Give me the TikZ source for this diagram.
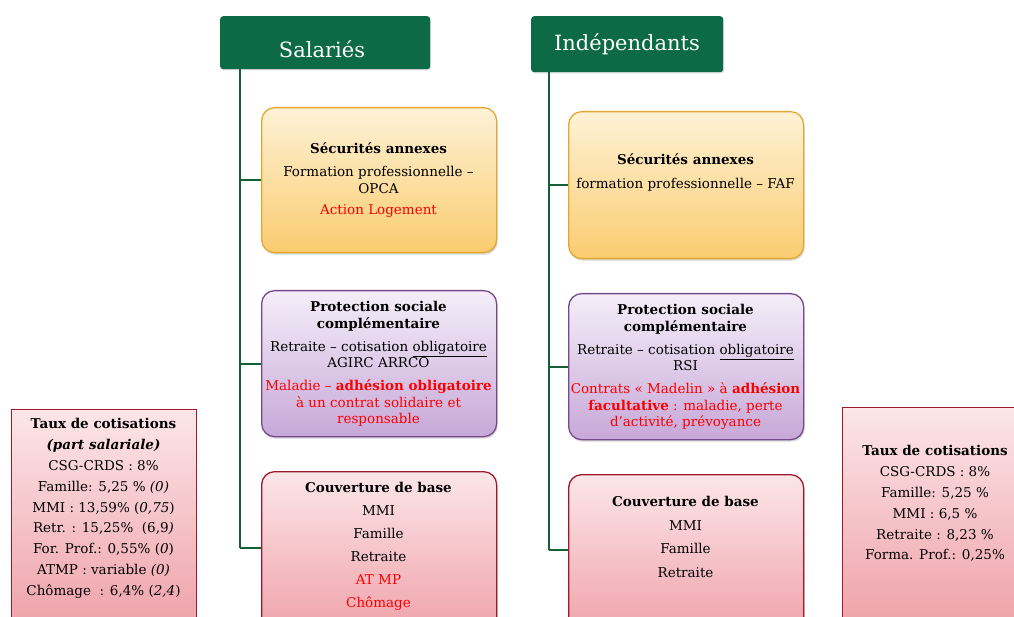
\documentclass[tikz,border=0pt]{standalone}
\usepackage{fontspec}
\setmainfont{DejaVu Serif}
\usetikzlibrary{shadows}
\definecolor{hgreen}{RGB}{12,106,70}
\definecolor{tline}{RGB}{20,96,52}
\definecolor{yelTop}{RGB}{254,242,214}
\definecolor{yelBot}{RGB}{250,204,112}
\definecolor{yelBd}{RGB}{226,168,48}
\definecolor{purTop}{RGB}{245,238,249}
\definecolor{purBot}{RGB}{199,168,216}
\definecolor{purBd}{RGB}{118,72,142}
\definecolor{pinkTop}{RGB}{252,230,232}
\definecolor{pinkBot}{RGB}{238,158,166}
\definecolor{pinkBd}{RGB}{160,24,44}
\definecolor{txtred}{RGB}{250,0,0}
\begin{document}
\begin{tikzpicture}[x=1pt,y=-1pt,
  header/.style={fill=hgreen, rounded corners=3pt, inner sep=0pt, anchor=north west,
     drop shadow={shadow xshift=0.8pt,shadow yshift=-1.2pt,opacity=0.25}},
  htext/.style={text=white, font=\fontsize{21}{26}\selectfont, inner sep=0pt},
  card/.style={rounded corners=13pt, line width=1.3pt, inner sep=0pt, anchor=north west,
     minimum width=235pt, drop shadow={shadow xshift=1pt,shadow yshift=-2pt,opacity=0.3}},
  yelcard/.style={card, draw=yelBd, top color=yelTop, bottom color=yelBot},
  purcard/.style={card, draw=purBd, top color=purTop, bottom color=purBot},
  pinkcard/.style={card, draw=pinkBd, top color=pinkTop, bottom color=pinkBot},
  tauxbox/.style={draw=pinkBd, line width=1.3pt, top color=pinkTop, bottom color=pinkBot,
     inner sep=0pt, anchor=north west, minimum width=185pt},
  body/.style={align=center, inner sep=0pt, anchor=north, text=black,
     font=\fontsize{13.5}{16.5}\selectfont},
  tbody/.style={align=center, inner sep=0pt, anchor=north, text=black,
     font=\fontsize{13.5}{20.8}\selectfont},
  trunk/.style={draw=tline, line width=2.6pt},
  branch/.style={draw=tline, line width=2.2pt}
]
\useasboundingbox (0,0) rectangle (1014,617);
\fill[white] (0,0) rectangle (1014,617);

% headers
\node[header, minimum width=210pt, minimum height=53pt] (hSal) at (220,16) {};
\node[htext] (tSal) at (322,49) {Salariés};
\node[header, minimum width=192pt, minimum height=56pt] (hInd) at (531,16) {};
\node[htext] (tInd) at (627,44) {Indépendants};

% left cards
\node[yelcard, minimum height=145pt] (secL) at (261,107) {};
\node[purcard, minimum height=146pt] (proL) at (261,290) {};
\node[pinkcard, minimum height=170pt] (couL) at (261,471) {};
% right cards
\node[yelcard, minimum height=147pt] (secR) at (568,111) {};
\node[purcard, minimum height=146pt] (proR) at (568,293) {};
\node[pinkcard, minimum height=170pt] (couR) at (568,474) {};
% taux boxes
\node[tauxbox, minimum height=230pt] (tauxL) at (11,409) {};
\node[tauxbox, minimum width=186pt, minimum height=230pt] (tauxR) at (842,407) {};

% trunks and branches
\coordinate (jL3) at (240,548);
\coordinate (jR3) at (549,550);
\coordinate (cL3) at (261,548);
\coordinate (cR3) at (568,550);
\draw[trunk] (hSal.south -| jL3) -- (jL3);
\draw[trunk] (hInd.south -| jR3) -- (jR3);
\draw[branch] (secL.west -| jL3) -- (secL.west);
\draw[branch] (proL.west -| jL3) -- (proL.west);
\draw[branch] (jL3) -- (cL3);
\draw[branch] (secR.west -| jR3) -- (secR.west);
\draw[branch] (proR.west -| jR3) -- (proR.west);
\draw[branch] (jR3) -- (cR3);

% texts left
\node[body] (xSecL) at (378.5,142.2) {\strut\textbf{Sécurités annexes}\\[6.5pt]
  Formation professionnelle –\\ OPCA\\[4.5pt]
  \textcolor{txtred}{Action Logement}};
\node[body] (xProL) at (378.5,300.2) {\strut\textbf{Protection sociale}\\ \textbf{complémentaire}\\[6.5pt]
  Retraite – cotisation \underline{obligatoire}\\ AGIRC ARRCO\\[6.5pt]
  \textcolor{txtred}{Maladie – \textbf{adhésion obligatoire}}\\
  \textcolor{txtred}{à un contrat solidaire et}\\
  \textcolor{txtred}{responsable}};
\node[body] (xCouL) at (378.5,481.2) {\strut\textbf{Couverture de base}\\[6.5pt]
  MMI\\[6.5pt] Famille\\[6.5pt] Retraite\\[6.5pt]
  \textcolor{txtred}{AT MP}\\[6.5pt] \textcolor{txtred}{Chômage}};

% texts right
\node[body] (xSecR) at (685.5,153.2) {\strut\textbf{Sécurités annexes}\\[7.5pt]
  formation professionnelle – FAF};
\node[body] (xProR) at (685.5,303.2) {\strut\textbf{Protection sociale}\\ \textbf{complémentaire}\\[6.5pt]
  Retraite – cotisation \underline{obligatoire}\\ RSI\\[6.5pt]
  \textcolor{txtred}{Contrats « Madelin » à \textbf{adhésion}}\\
  \textcolor{txtred}{\textbf{facultative} : maladie, perte}\\
  \textcolor{txtred}{d’activité, prévoyance}};
\node[body] (xCouR) at (685.5,495.2) {\strut\textbf{Couverture de base}\\[7pt]
  MMI\\[7pt] Famille\\[7pt] Retraite};

% taux texts
\node[tbody] (xTauxL) at (103.5,414.2) {\strut\textbf{Taux de cotisations}\\
  \textbf{\textit{(part salariale)}}\\
  CSG-CRDS : 8\%\\
  Famille: 5,25 \% \textit{(0)}\\
  MMI : 13,59\% (\textit{0,75})\\
  Retr. : 15,25\%~~(6,9\textit{)}\\
  For. Prof.: 0,55\% (\textit{0})\\
  ATMP : variable \textit{(0)}\\
  Chômage~ : 6,4\% (\textit{2,4})};
\node[tbody] (xTauxR) at (935,441.2) {\strut\textbf{Taux de cotisations}\\
  CSG-CRDS : 8\%\\
  Famille: 5,25 \%\\
  MMI : 6,5 \%\\
  Retraite : 8,23 \%\\
  Forma. Prof.: 0,25\%};
\end{tikzpicture}
\end{document}
